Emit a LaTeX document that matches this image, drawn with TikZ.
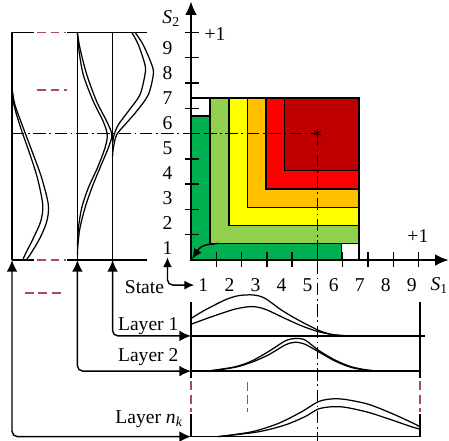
\documentclass[tikz,border=0pt]{standalone}
\usepackage{fontspec}
\setmainfont{Liberation Serif}
\usetikzlibrary{arrows.meta,positioning,calc}
\definecolor{lvGreenD}{HTML}{00B050}
\definecolor{lvGreenL}{HTML}{92D050}
\definecolor{lvYellow}{HTML}{FFFF00}
\definecolor{lvOrange}{HTML}{FFC000}
\definecolor{lvRed}{HTML}{FF0000}
\definecolor{lvRedD}{HTML}{C00000}
\definecolor{lvPink}{HTML}{A8477A}

\begin{document}
\begin{tikzpicture}[x=0.5cm,y=0.5cm,
  font=\fontsize{11}{13}\selectfont,
  line width=0.8pt,
  lbl/.style={inner sep=1pt},
  cell/.style={draw=black, line width=0.8pt},
  axis/.style={-{Latex[length=7.5pt,width=6.5pt]}},
  link/.style={{Latex[length=6.5pt,width=6pt]}-{Latex[length=6.5pt,width=6pt]}, rounded corners=3pt},
  sarr/.style={{Latex[length=5.5pt,width=5pt]}-{Latex[length=5.5pt,width=5pt]}, rounded corners=3pt},
  garr/.style={-{Latex[length=6pt,width=5pt]}},
  dens/.style={line width=0.7pt},
  gap/.style={lvPink, dash pattern=on 5pt off 2.5pt},
  cut/.style={dash pattern=on 7pt off 2pt on 1pt off 2pt}]

\useasboundingbox (-7.55,-7.15) rectangle (10.2,10.28);

% joint state field
\draw[cell, fill=white] (0,0) rectangle (6.64,6.40);
\draw[cell, fill=lvGreenD] (0,0) rectangle (5.96,5.69);
\foreach \col/\x/\y in {lvGreenL/0.75/0.66, lvYellow/1.50/1.37, lvOrange/2.23/2.08,
                        lvRed/2.96/2.81, lvRedD/3.69/3.53}
  \draw[cell, fill=\col] (\x,\y) rectangle (6.64,6.40);
\coordinate (g0) at (1.07,0.66);
\coordinate (g1) at (0.62,0.60);
\coordinate (orig) at (0.04,0.03);
\draw[garr] (g0) -- (g1) to[out=190,in=57] (orig);

% axes
\draw[axis] (0,0) -- (10.18,0);
\draw[axis] (0,0) -- (0,10.22);
\foreach \k in {1,...,9} {
  \draw (\k,-0.27) -- (\k,0.32);
  \draw (-0.24,\k) -- (0.32,\k);
  \node[lbl] (sx\k) at ({1.03*\k-0.54},-0.99) {\k};
  \node[lbl] (sy\k) at (-0.93,{0.99*\k-0.53}) {\k};
}
\node[inner sep=0pt, anchor=east] (s1) at (10.19,-1.0) {\textit{S}\textsubscript{1}};
\node[inner sep=0pt] (s2) at (-0.78,9.55) {\textit{S}\textsubscript{2}};
\node[lbl] (p2) at (0.95,8.93) {+1};
\node[lbl] (p1) at (8.97,0.95) {+1};

% state
\draw[sarr] (sy1.south) |- ([xshift=-1pt]sx1.west);
\node[lbl] (state) at (-1.84,-1.07) {State};

% cut through the selected state
\coordinate (opt) at (5,5);
\draw[cut] (-7.075,5) -- (opt);
\draw[cut] (opt) -- (5,-7.15);
\node[inner sep=0pt] (star) at (opt) {$\ast$};

% bottom panel, S1
\draw (0,-1.65) -- (0,-4.65);
\draw[gap] (0,-4.8) -- (0,-6.0);
\draw (0,-6.1) -- (0,-6.98);
\draw (9.05,-1.65) -- (9.05,-4.65);
\draw[gap] (9.05,-4.8) -- (9.05,-6.0);
\draw (9.05,-6.1) -- (9.05,-6.98);
\draw[gap] (2.24,-4.81) -- (2.24,-6.0);
\draw (0,-3.0) -- (9.25,-3.0);
\draw (0,-4.39) -- (9.05,-4.39);
\draw (0,-6.98) -- (9.05,-6.98);

\draw[dens] plot[smooth] coordinates {(0,-2.31) (0.55,-1.98) (1.34,-1.58) (1.87,-1.41) (2.46,-1.38)
  (2.92,-1.51) (3.58,-1.98) (4.24,-2.37) (5.03,-2.77) (5.56,-2.94) (6.22,-3.0) (6.8,-3.0)};
\draw[dens] plot[smooth] coordinates {(0,-2.54) (0.82,-2.24) (1.74,-1.94) (2.40,-1.84) (2.92,-1.94)
  (3.72,-2.31) (4.37,-2.60) (5.03,-2.83) (5.69,-2.96) (6.4,-3.0) (6.9,-3.0)};
\draw[dens] plot[smooth] coordinates {(0.2,-4.39) (0.69,-4.38) (1.74,-4.22) (2.40,-3.99) (3.06,-3.62)
  (3.72,-3.20) (4.11,-3.10) (4.51,-3.16) (5.03,-3.56) (5.69,-3.95) (6.35,-4.22) (7.14,-4.37) (8.0,-4.39)};
\draw[dens] plot[smooth] coordinates {(0.2,-4.39) (0.69,-4.39) (1.74,-4.24) (2.40,-4.04) (3.06,-3.75)
  (3.72,-3.36) (4.11,-3.25) (4.51,-3.33) (5.03,-3.62) (5.69,-3.99) (6.35,-4.25) (7.14,-4.37) (8.3,-4.39)};
\draw[dens] plot[smooth] coordinates {(1.08,-6.98) (2.40,-6.79) (3.45,-6.46) (4.37,-6.0) (5.03,-5.60)
  (5.56,-5.49) (6.09,-5.51) (7.01,-5.70) (7.93,-6.06) (8.72,-6.42) (9.05,-6.59)};
\draw[dens] plot[smooth] coordinates {(1.08,-6.98) (2.66,-6.79) (3.72,-6.52) (4.51,-6.19) (5.03,-5.89)
  (5.56,-5.80) (6.09,-5.82) (7.01,-6.02) (7.93,-6.32) (8.72,-6.59) (9.05,-6.68)};

% left panel, S2
\draw (-7.075,0) -- (-7.075,9);
\draw (-4.49,0) -- (-4.49,9);
\draw (-3.10,0) -- (-3.10,9);
\foreach \v in {0,9} {
  \draw (-7.075,\v) -- (-6.2,\v);
  \draw[gap] (-6.08,\v) -- (-4.95,\v);
  \draw (-4.9,\v) -- (-1.75,\v);
}
\draw[gap] (-6.08,6.73) -- (-4.91,6.73);
\draw[gap] (-6.56,-1.30) -- (-4.98,-1.30);

\draw[dens] plot[smooth] coordinates {(-2.21,9) (-1.89,8.51) (-1.55,7.72) (-1.49,7.33) (-1.69,6.53)
  (-2.15,5.88) (-2.61,5.35) (-2.94,4.95) (-3.07,4.43) (-3.10,4.1)};
\draw[dens] plot[smooth] coordinates {(-2.34,9) (-2.08,8.51) (-1.82,7.72) (-1.82,7.33) (-2.02,6.53)
  (-2.48,5.88) (-2.87,5.35) (-3.04,4.95) (-3.10,4.62)};
\draw[dens] plot[smooth] coordinates {(-4.49,9) (-4.39,8.38) (-4.12,7.33) (-3.73,6.27) (-3.33,5.48)
  (-3.13,4.95) (-3.27,4.43) (-3.60,3.64) (-3.92,2.85) (-4.19,2.06) (-4.39,1.26) (-4.47,0.60) (-4.49,0.2)};
\draw[dens] plot[smooth] coordinates {(-4.49,9) (-4.44,8.38) (-4.26,7.33) (-3.86,6.27) (-3.47,5.48)
  (-3.31,4.95) (-3.40,4.43) (-3.70,3.64) (-4.06,2.85) (-4.32,2.06) (-4.45,1.26) (-4.49,0.5)};
\draw[dens] plot[smooth] coordinates {(-7.075,6.80) (-6.96,6.14) (-6.63,5.22) (-6.23,4.16) (-5.90,3.24)
  (-5.64,2.19) (-5.70,1.53) (-5.97,0.87) (-6.36,0.21) (-6.52,0)};
\draw[dens] plot[smooth] coordinates {(-7.075,6.80) (-7.0,6.14) (-6.73,5.22) (-6.36,4.16) (-6.07,3.24)
  (-5.86,2.19) (-5.94,1.53) (-6.23,0.87) (-6.56,0.21) (-6.65,0)};

% layers
\coordinate (v1) at (-3.10,0);
\coordinate (h1) at (0,-3.0);
\coordinate (v2) at (-4.49,0);
\coordinate (h2) at (0,-4.39);
\coordinate (vk) at (-7.075,0);
\coordinate (hk) at (0,-6.98);
\draw[link] (v1) |- (h1);
\draw[link] (v2) |- (h2);
\draw[link] (vk) |- (hk);
\node[lbl, anchor=base east] (lay1) at (-0.40,-2.77) {Layer 1};
\node[lbl, anchor=base east] (lay2) at (-0.40,-4.02) {Layer 2};
\node[lbl, anchor=base east] (layk) at (-0.22,-6.47) {Layer \textit{n}\textsubscript{\textit{k}}};
\end{tikzpicture}
\end{document}
